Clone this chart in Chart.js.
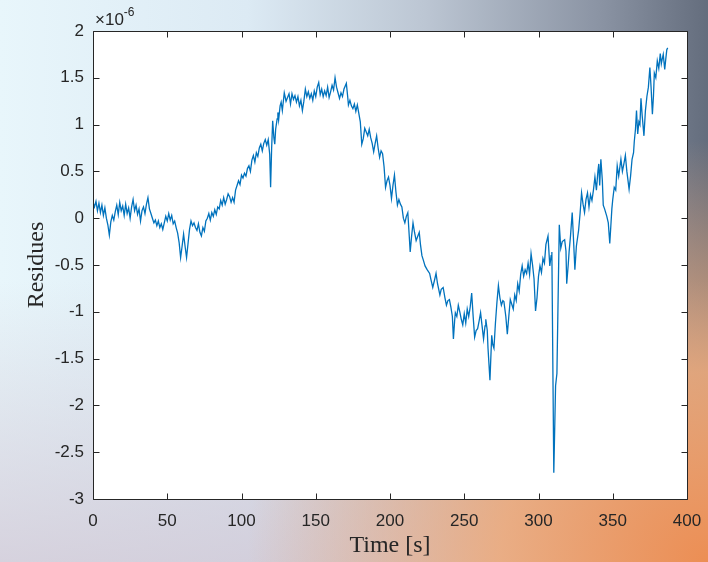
<!DOCTYPE html>
<html>
<head>
<meta charset="utf-8">
<script src="https://cdn.jsdelivr.net/npm/chart.js@4"></script>
<style>
html,body{margin:0;padding:0;}
body{width:708px;height:562px;overflow:hidden;
background:
 radial-gradient(ellipse 65% 75% at 100% 100%, rgba(236,142,84,1) 0%, rgba(240,170,120,0.85) 45%, rgba(240,190,160,0) 100%),
 linear-gradient(to bottom, rgba(255,255,255,0) 0%, rgba(255,255,255,0) 50%, rgba(208,198,212,0.75) 100%),
 linear-gradient(to right, #e8f6fb 0%, #dceaf4 35%, #bcc6d3 60%, #8a93a3 85%, #646d7d 100%);
}
#wrap{position:absolute;left:0;top:0;width:708px;height:562px;}
</style>
</head>
<body>
<div id="wrap"><canvas id="c" width="708" height="562"></canvas></div>
<script>
// Time [s]
const times = [
0,1,2,3,4,5,6,7,8,9,10,11,12,13,14,15,16,17,18,19,
20,21,22,23,24,25,26,27,28,29,30,31,32,33,34,35,36,37,38,39,
40,41,42,43,44,45,46,47,48,49,50,51,52,53,54,55,56,57,58,59,
60,61,62,63,64,65,66,67,68,69,70,71,72,73,74,75,76,77,78,79,
80,81,82,83,84,85,86,87,88,89,90,91,92,93,94,95,96,97,98,99,
100,101,102,103,104,105,106,107,108,109,110,111,112,113,114,115,116,117,118,119,
119.6,120.3,121,121.8,122.4,123,124,124.5,125,126,126.7,127.5,128.8,130,131,132,133,134,135,136,
137,138,139,140,141,142,143,144,145,146,147,148,149,150,151,152,153,154,155,156,
157,158,159,160,161,162,163,164,165,166,167,168,169,170.6,171.5,172,173,174,175,176,
177,178,179,180,181,182,183,184,185,186,187,188,189,190,191,192,193,194,195,196,
197,198,199,200,201,202,203,204,205,206,207,208,209,210,211,212,213,213.6,214.5,215.5,
216.5,217.6,218.5,219.7,220.5,221.5,222.5,223.6,225,226.7,227.5,228.8,230,231,232,233.6,234.5,235.8,237,238,
239,240,241,242,242.7,243.5,244,245,246,247,248,249,250,251,252,253,254,255,256,257,
258,259,260,261,262,263,264,264.5,265.5,266,267.3,268.5,269.2,270,271,272,273,274,275,276,
276.7,278,279,280,281,282,283,284,285,286,287,288,289,290,291,292,293,294,295,296,
297,298,299,300,301,302,303,304,305,306.4,307.6,308.5,309,310.3,311.5,312.4,314,315,316,317.6,
318.5,319,320,320.6,321.5,322.7,323.5,324.5,325.5,327,328,329,330,331,332,333,334,335,336,337,
338,339,340,340.6,341.2,342,343,343.6,344.5,346,347,348,349.4,350,351,352,353,354,355.5,356.5,
357.5,358.5,359.5,361,362,363,364,364.5,365.3,366,366.8,367.6,368.3,369,369.8,371,372,373,374,375,
375.8,376.7,377.4,378,379,380,381,382,382.7,383.3,384,385,385.7,386.4,387
];
// Residues, in units of 1e-6
const residues = [
0.17,0.12,0.18,0.08,0.16,0.06,0.14,0.03,0.11,0.0,-0.07,-0.18,-0.04,0.03,-0.02,0.07,0.14,0.04,0.17,0.08,
0.13,0.03,0.15,0.05,0.11,0.0,0.12,0.2,0.08,0.14,0.04,0.1,-0.03,0.08,0.12,0.05,0.15,0.22,0.1,0.05,
0.0,-0.05,-0.02,-0.08,-0.03,-0.1,-0.06,-0.12,-0.05,0.02,-0.03,0.05,-0.02,0.03,-0.06,-0.03,-0.1,-0.16,-0.26,-0.42,
-0.3,-0.17,-0.3,-0.42,-0.27,-0.12,-0.03,-0.08,-0.05,-0.1,-0.13,-0.06,-0.15,-0.19,-0.1,-0.14,-0.03,0.0,0.05,-0.02,
0.06,0.02,0.09,0.04,0.12,0.1,0.19,0.14,0.22,0.15,0.2,0.26,0.23,0.17,0.22,0.17,0.3,0.35,0.4,0.36,
0.46,0.43,0.48,0.45,0.53,0.56,0.5,0.62,0.67,0.6,0.7,0.66,0.75,0.79,0.72,0.8,0.84,0.78,0.84,0.68,
0.33,0.75,1.04,0.86,0.79,0.95,1.06,1.13,1.05,1.2,1.24,1.15,1.34,1.25,1.29,1.33,1.22,1.33,1.27,1.31,
1.24,1.3,1.2,1.26,1.15,1.25,1.38,1.3,1.35,1.28,1.33,1.26,1.36,1.3,1.4,1.45,1.32,1.38,1.3,1.36,
1.31,1.4,1.29,1.35,1.42,1.37,1.5,1.4,1.34,1.28,1.34,1.3,1.38,1.44,1.3,1.21,1.26,1.2,1.17,1.22,
1.14,1.21,1.12,1.03,0.79,0.85,0.96,0.92,0.88,0.95,0.86,0.8,0.71,0.8,0.88,0.75,0.65,0.72,0.69,0.55,
0.33,0.4,0.44,0.35,0.21,0.35,0.46,0.28,0.14,0.2,0.15,0.12,0.0,-0.05,0.02,0.06,-0.2,-0.36,-0.2,-0.05,
-0.15,-0.24,-0.2,-0.15,-0.28,-0.4,-0.45,-0.51,-0.55,-0.59,-0.65,-0.74,-0.66,-0.59,-0.7,-0.82,-0.76,-0.74,-0.85,-0.93,
-0.88,-0.87,-0.95,-1.05,-1.29,-1.1,-1.01,-1.05,-0.93,-1.0,-1.08,-1.14,-1.02,-1.12,-0.97,-1.05,-0.95,-0.8,-1.05,-1.27,
-1.2,-1.18,-1.1,-1.01,-1.15,-1.29,-1.15,-1.08,-1.2,-1.39,-1.73,-1.25,-1.35,-1.39,-1.12,-0.9,-0.72,-0.85,-0.93,-0.88,
-0.89,-1.05,-1.24,-1.05,-0.87,-0.92,-0.97,-0.82,-0.88,-0.7,-0.78,-0.6,-0.51,-0.62,-0.55,-0.59,-0.48,-0.6,-0.38,-0.5,
-0.65,-0.99,-0.85,-0.62,-0.51,-0.58,-0.43,-0.48,-0.28,-0.19,-0.51,-0.4,-0.36,-2.72,-1.79,-1.66,-0.07,-0.32,-0.25,-0.23,
-0.35,-0.7,-0.5,-0.36,-0.2,0.06,-0.2,-0.55,-0.3,-0.13,0.05,0.27,0.15,0.06,0.2,0.27,0.12,0.25,0.19,0.3,
0.44,0.3,0.5,0.58,0.35,0.63,0.4,0.14,0.1,0.02,-0.05,-0.27,0.1,0.2,0.33,0.3,0.56,0.45,0.63,0.5,
0.58,0.67,0.5,0.31,0.45,0.63,0.7,0.82,0.95,1.15,0.9,1.03,1.0,1.28,1.1,0.88,1.15,1.3,1.4,1.61,
1.4,1.11,1.3,1.55,1.5,1.68,1.6,1.76,1.65,1.7,1.75,1.59,1.7,1.8,1.82
];
const xTicks = [0,50,100,150,200,250,300,350,400];
const yTicks = [-3,-2.5,-2,-1.5,-1,-0.5,0,0.5,1,1.5,2];
const xTitle = 'Time [s]';
const yTitle = 'Residues';
const exponentBase = '\u00d710';
const exponentPower = '-6';

const points = times.map((t,i)=>({x:t,y:residues[i]}));

const frame = {
  id:'frame',
  beforeDraw(chart){
    const {ctx, chartArea:a} = chart;
    ctx.save();
    ctx.fillStyle = '#ffffff';
    ctx.fillRect(a.left, a.top, a.right-a.left, a.bottom-a.top);
    ctx.restore();
  },
  afterDraw(chart){
    const {ctx, chartArea:a, scales} = chart;
    ctx.save();
    ctx.strokeStyle = '#262626';
    ctx.lineWidth = 1;
    const L = Math.round(a.left)+0.5, R = Math.round(a.right)+0.5, T = Math.round(a.top)+0.5, B = Math.round(a.bottom)+0.5;
    ctx.beginPath();
    ctx.rect(L, T, R-L, B-T);
    ctx.stroke();
    const tl = 6;
    ctx.beginPath();
    xTicks.forEach(v=>{
      const px = Math.round(scales.x.getPixelForValue(v))+0.5;
      ctx.moveTo(px,B); ctx.lineTo(px,B-tl);
      ctx.moveTo(px,T); ctx.lineTo(px,T+tl);
    });
    yTicks.forEach(v=>{
      const py = Math.round(scales.y.getPixelForValue(v))+0.5;
      ctx.moveTo(L,py); ctx.lineTo(L+tl,py);
      ctx.moveTo(R,py); ctx.lineTo(R-tl,py);
    });
    ctx.stroke();
    // exponent label
    ctx.fillStyle = '#262626';
    ctx.textBaseline = 'alphabetic';
    ctx.font = '17px "Liberation Sans", Arial, sans-serif';
    ctx.fillText(exponentBase, a.left+2, a.top-6);
    const w = ctx.measureText(exponentBase).width;
    ctx.font = '12px "Liberation Sans", Arial, sans-serif';
    ctx.fillText(exponentPower, a.left+2+w, a.top-15);
    ctx.restore();
  }
};

new Chart(document.getElementById('c'), {
  type:'line',
  data:{datasets:[{
    data: points,
    borderColor:'#0072BD',
    borderWidth:1.3,
    pointRadius:0,
    tension:0,
    fill:false
  }]},
  options:{
    responsive:false,
    animation:false,
    events:[],
    layout:{padding:{top:31,right:21,left:0,bottom:0}},
    plugins:{legend:{display:false},tooltip:{enabled:false}},
    scales:{
      x:{
        type:'linear', min:0, max:400,
        afterBuildTicks(s){ s.ticks = xTicks.map(v=>({value:v})); },
        afterFit(s){ s.height = 63; s.paddingRight = 0; s.paddingLeft = 0; },
        grid:{display:false, drawTicks:false},
        border:{display:false},
        ticks:{color:'#262626', padding:12, maxRotation:0, autoSkip:false,
               font:{family:'"Liberation Sans", Arial, sans-serif', size:17}},
        title:{display:true, text:xTitle, color:'#262626', padding:{top:0,bottom:2},
               font:{family:'"Liberation Serif", "Times New Roman", serif', size:24}}
      },
      y:{
        type:'linear', min:-3, max:2,
        afterBuildTicks(s){ s.ticks = yTicks.map(v=>({value:v})); },
        afterFit(s){ s.width = 93; s.paddingTop = 0; s.paddingBottom = 0; },
        grid:{display:false, drawTicks:false},
        border:{display:false},
        ticks:{color:'#262626', padding:9, autoSkip:false,
               font:{family:'"Liberation Sans", Arial, sans-serif', size:17},
               callback:(v)=>String(v)},
        title:{display:true, text:yTitle, color:'#262626', padding:{top:22,bottom:0},
               font:{family:'"Liberation Serif", "Times New Roman", serif', size:24}}
      }
    }
  },
  plugins:[frame]
});
</script>
</body>
</html>
